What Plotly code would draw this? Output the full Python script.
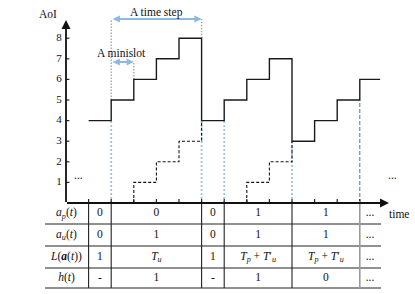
import plotly.graph_objects as go

# ---------------- data ----------------
y_ticks = [1, 2, 3, 4, 5, 6, 7, 8]
x_ticks = list(range(1, 14))

# AoI (solid) staircase: value held from each x until the next
aoi_x = [1, 2, 3, 4, 5, 6, 7, 8, 9, 10, 11, 12, 13, 13.9]
aoi_y = [4, 5, 6, 7, 8, 4, 5, 6, 7, 3, 4, 5, 6, 6]

# dashed staircases (vertical-then-horizontal)
dash1_x = [3, 4, 5, 6, 6]
dash1_y = [0, 1, 2, 3, 4]
dash2_x = [8, 9, 10, 10]
dash2_y = [0, 1, 2, 3]

# blue vertical markers
blue_x = [2, 6, 7, 10]
blue_top = [4, 4, 4, 3]
blue2_x = [13]
blue2_top = [5]

# table
row_labels = ["<i>a</i><sub><i>p</i></sub>(<i>t</i>)",
              "<i>a</i><sub><i>u</i></sub>(<i>t</i>)",
              "<i>L</i>(<b><i>a</i></b>(<i>t</i>))",
              "<i>h</i>(<i>t</i>)"]
col_edges = [1, 2, 6, 7, 10, 13, 13.9]
TPU = "<i>T</i><sub><i>p</i></sub> + <i>T</i>′<sub><i>u</i></sub>"
TU = "<i>T</i><sub><i>u</i></sub>"
row_ap = ["0", "0", "0", "1", "1", "..."]
row_au = ["0", "1", "0", "1", "1", "..."]
row_L = ["1", TU, "1", TPU, TPU, "..."]
row_h = ["-", "1", "-", "1", "0", "..."]
table_rows = [row_ap, row_au, row_L, row_h]

# ---------------- geometry (pixel mapping) ----------------
W, H = 415, 294
X0, XU = 66, 22.6      # pixel of x=0, px per unit
Y0, YU = 203, 20.6     # pixel of y=0, px per unit


def dx(px):
    return (px - X0) / XU


def dy(py):
    return (Y0 - py) / YU


FONT = "Liberation Serif, Times New Roman, serif"
fig = go.Figure()


def seg_trace(segs, color, width, dash="solid"):
    xs, ys = [], []
    for (x1, y1, x2, y2) in segs:
        xs += [x1, x2, None]
        ys += [y1, y2, None]
    fig.add_trace(go.Scatter(x=xs, y=ys, mode="lines", hoverinfo="skip",
                             line=dict(color=color, width=width, dash=dash),
                             showlegend=False))


# gray dotted guide lines
arrow1_y = dy(19)
arrow2_y = dy(62)
seg_trace([(2, 5, 2, arrow1_y), (6, 8, 6, arrow1_y), (3, 6, 3, arrow2_y)],
          "#a8a8a8", 1.4, "1.5px,1.5px")

# blue vertical lines
seg_trace([(x, 0, x, t) for x, t in zip(blue_x, blue_top)], "#9DC3E6", 1.8, "2px,2px")
seg_trace([(x, 0, x, t) for x, t in zip(blue2_x, blue2_top)], "#4A86C0", 1.1, "4px,2px")

# dashed staircases
for xs, ys in [(dash1_x, dash1_y), (dash2_x, dash2_y)]:
    fig.add_trace(go.Scatter(x=xs, y=ys, mode="lines", line_shape="vh",
                             line=dict(color="#111", width=1.1, dash="3px,2px"),
                             hoverinfo="skip", showlegend=False))

# AoI solid staircase
fig.add_trace(go.Scatter(x=aoi_x, y=aoi_y, mode="lines", line_shape="hv",
                         line=dict(color="#1a1a1a", width=1.4),
                         hoverinfo="skip", showlegend=False))

# tick marks
seg_trace([(0, t, 0.15, t) for t in y_ticks] +
          [(t, 0, t, 0.2) for t in x_ticks], "#222", 1.2)

# table lines
row_lines = [dy(224), dy(246), dy(268), dy(288)]
seg_trace([(dx(45), r, dx(381), r) for r in row_lines], "#222", 1)
seg_trace([(x, 0, x, row_lines[-1]) for x in col_edges[:-2]], "#222", 1.1)
seg_trace([(col_edges[-2], 0.1, col_edges[-2], row_lines[-1])], "#9a9a9a", 1.6)

# y tick labels
fig.add_trace(go.Scatter(x=[dx(59)] * len(y_ticks), y=y_ticks, mode="text",
                         text=[str(t) for t in y_ticks],
                         textfont=dict(family=FONT, size=11, color="#111"),
                         hoverinfo="skip", showlegend=False))

# table text
row_tops = [0] + row_lines[:-1]
row_centers = [(a + b) / 2 for a, b in zip(row_tops, row_lines)]
tx, ty, tt = [], [], []
for rc, lab, vals in zip(row_centers, row_labels, table_rows):
    tx.append(0.02)
    ty.append(rc)
    tt.append(lab)
    for i, v in enumerate(vals):
        tx.append((col_edges[i] + col_edges[i + 1]) / 2)
        ty.append(rc)
        tt.append(v)
fig.add_trace(go.Scatter(x=tx, y=ty, mode="text", text=tt,
                         textfont=dict(family=FONT, size=11.5, color="#111"),
                         hoverinfo="skip", showlegend=False))

# axes with arrows
ax_kw = dict(xref="x", yref="y", axref="x", ayref="y", text="", showarrow=True,
             arrowhead=2, arrowsize=1, arrowwidth=1.8, arrowcolor="#111",
             standoff=0, startstandoff=0)
fig.add_annotation(x=0, y=dy(20), ax=0, ay=-0.02, **ax_kw)
fig.add_annotation(x=dx(389), y=0, ax=-0.02, ay=0, **ax_kw)

# double-headed interval arrows
arr_kw = dict(xref="x", yref="y", axref="x", ayref="y", text="", showarrow=True,
              arrowhead=2, arrowside="end+start", arrowsize=0.8, arrowwidth=1.8,
              arrowcolor="#8DB8E2", standoff=0, startstandoff=0)
fig.add_annotation(x=6, y=arrow1_y, ax=2, ay=arrow1_y, **arr_kw)
fig.add_annotation(x=3, y=arrow2_y, ax=2, ay=arrow2_y, **arr_kw)

# labels
lab_font = dict(family=FONT, size=11.5, color="#111")
for txt, px, py in [("A time step", 156, 12), ("A minislot", 121, 53),
                    ("AoI", 48, 14), ("time", 399, 214),
                    ("...", 78, 175), ("...", 392, 175)]:
    fig.add_annotation(x=dx(px), y=dy(py), xref="x", yref="y", text=txt,
                       showarrow=False, font=lab_font)

fig.update_layout(
    width=W, height=H, margin=dict(l=0, r=0, t=0, b=0),
    paper_bgcolor="white", plot_bgcolor="white",
    xaxis=dict(range=[dx(0), dx(W)], visible=False, fixedrange=True),
    yaxis=dict(range=[dy(H), dy(0)], visible=False, fixedrange=True),
    showlegend=False, hovermode=False,
)

fig.write_html("out.html",
               config={"displayModeBar": False, "staticPlot": True},
               post_script="document.body.style.margin='0px';"
                           "document.body.style.overflow='hidden';")
